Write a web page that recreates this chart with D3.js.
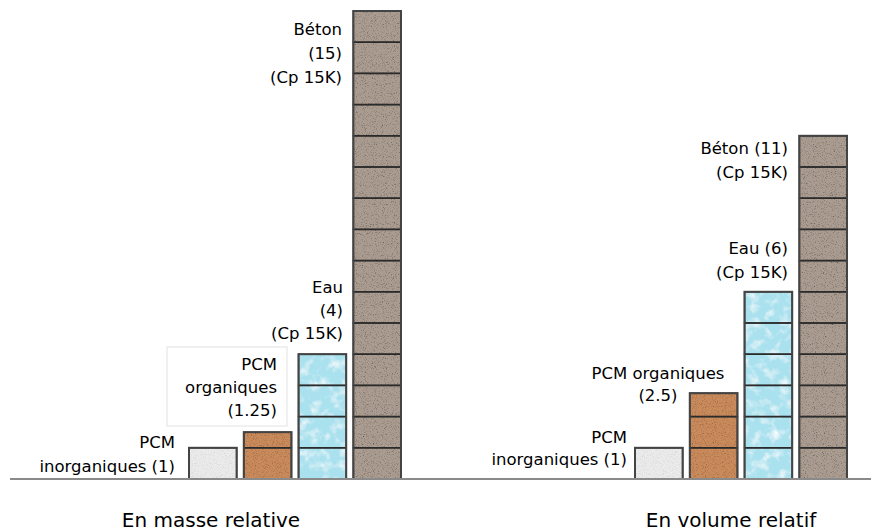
<!DOCTYPE html>
<html>
<head>
<meta charset="utf-8">
<script src="https://cdn.jsdelivr.net/npm/d3@7"></script>
<style>
  body { margin: 0; background: #fff; }
  svg { display: block; font-family: "DejaVu Sans", sans-serif; }
</style>
</head>
<body>
<div id="chart"></div>
<script>
// Data (heights in "blocks")
var groups = ["En masse relative", "En volume relatif"];
var materials = ["inorg", "org", "eau", "beton"];
var massHeights = [1, 1.5, 4, 15];
var volumeHeights = [1, 2.75, 6, 11];
var massLabels = [["PCM", "inorganiques (1)"], ["PCM", "organiques", "(1.25)"], ["Eau", "(4)", "(Cp 15K)"], ["Béton", "(15)", "(Cp 15K)"]];
var volumeLabels = [["PCM", "inorganiques (1)"], ["PCM organiques", "(2.5)"], ["Eau (6)", "(Cp 15K)"], ["Béton (11)", "(Cp 15K)"]];

var colors = { inorg: "#ececec", org: "#c98a5c", eau: "#a9e1ee", beton: "#aa9c90" };
var grain = { inorg: 0.5, org: 1.4, eau: 0.7, beton: 1.8 };

var W = 871, H = 532;
var svg = d3.select('#chart').append('svg')
    .attr('width', W)
    .attr('height', H);

// noise texture filters, one per material
var defs = svg.append('defs');
materials.forEach(function (m) {
    var f = defs.append('filter').attr('id', 'tex-' + m)
        .attr('x', 0).attr('y', 0).attr('width', '100%').attr('height', '100%');
    f.append('feTurbulence').attr('type', 'fractalNoise')
        .attr('baseFrequency', m == 'eau' ? 0.1 : 0.9)
        .attr('numOctaves', 3).attr('seed', 7).attr('result', 't');
    var k = grain[m];
    var a = m == 'eau' ? '0 0 0 0 1  0 0 0 0 1  0 0 0 0 1  1.8 0 0 0 -0.85'
                       : '0 0 0 0 0  0 0 0 0 0  0 0 0 0 0  ' + k + ' 0 0 0 ' + (-0.55 * k + 0.05);
    f.append('feColorMatrix').attr('in', 't').attr('type', 'matrix').attr('values', a).attr('result', 'g');
    f.append('feComposite').attr('in', 'g').attr('in2', 'SourceGraphic').attr('operator', 'in').attr('result', 'm');
    var mg = f.append('feMerge');
    mg.append('feMergeNode').attr('in', 'SourceGraphic');
    mg.append('feMergeNode').attr('in', 'm');
});

// scales
var x0 = d3.scaleBand().domain(groups).range([189, 1081]);
var x1 = d3.scaleBand().domain(materials).range([0, 212]).paddingInner(0.13);
var y = d3.scaleLinear().domain([0, 15]).range([479, 11]);

var data = [];
groups.forEach(function (g, gi) {
    var hs = gi == 0 ? massHeights : volumeHeights;
    materials.forEach(function (m, i) {
        data.push({ group: g, mat: m, h: hs[i] });
    });
});

// build block list
var blocks = [];
data.forEach(function (d) {
    for (var i = 0; i < Math.ceil(d.h); i++) {
        blocks.push({ group: d.group, mat: d.mat, lo: i, hi: Math.min(i + 1, d.h) });
    }
});

var bars = svg.append('g');
bars.selectAll('rect.fill')
    .data(data)
    .enter().append('rect')
    .attr('class', 'fill')
    .attr('x', function (d) { return x0(d.group) + x1(d.mat); })
    .attr('y', function (d) { return y(d.h); })
    .attr('width', x1.bandwidth())
    .attr('height', function (d) { return y(0) - y(d.h); })
    .attr('fill', function (d) { return colors[d.mat]; })
    .attr('filter', function (d) { return 'url(#tex-' + d.mat + ')'; });

bars.selectAll('rect.block')
    .data(blocks)
    .enter().append('rect')
    .attr('class', 'block')
    .attr('x', function (d) { return x0(d.group) + x1(d.mat); })
    .attr('y', function (d) { return y(d.hi); })
    .attr('width', x1.bandwidth())
    .attr('height', function (d) { return y(d.lo) - y(d.hi); })
    .attr('fill', 'none')
    .attr('stroke', '#2b2b2b')
    .attr('stroke-width', 1.5);

bars.selectAll('rect.outline')
    .data(data)
    .enter().append('rect')
    .attr('class', 'outline')
    .attr('x', function (d) { return x0(d.group) + x1(d.mat); })
    .attr('y', function (d) { return y(d.h); })
    .attr('width', x1.bandwidth())
    .attr('height', function (d) { return y(0) - y(d.h); })
    .attr('fill', 'none')
    .attr('stroke', '#444')
    .attr('stroke-width', 2);

// baseline
svg.append('line')
    .attr('x1', 10).attr('x2', W)
    .attr('y1', y(0)).attr('y2', y(0))
    .attr('stroke', '#8a8a8a')
    .attr('stroke-width', 2);

// box behind left "PCM organiques"
svg.append('rect')
    .attr('x', 167).attr('y', 347)
    .attr('width', 120).attr('height', 79)
    .attr('fill', '#fff')
    .attr('stroke', '#e2e2e2')
    .attr('stroke-width', 1);

// labels: [lines, anchor x, first line y, line gap, anchor]
var labelPos = [
    [massLabels[0], 175, 448, 24, 'end'],
    [massLabels[1], 277, 370, 23, 'end'],
    [massLabels[2], 343, 293, 23, 'end'],
    [massLabels[3], 342, 35, 24, 'end'],
    [volumeLabels[0], 627, 443, 22, 'end'],
    [volumeLabels[1], 658, 379, 22, 'middle'],
    [volumeLabels[2], 788, 254, 24, 'end'],
    [volumeLabels[3], 788, 154, 24, 'end']
];

labelPos.forEach(function (l) {
    var t = svg.append('text')
        .attr('x', l[1]).attr('y', l[2])
        .attr('text-anchor', l[4])
        .attr('font-size', 16.5)
        .attr('fill', '#000');
    l[0].forEach(function (s, i) {
        t.append('tspan').attr('x', l[1]).attr('dy', i == 0 ? 0 : l[3]).text(s);
    });
});

// group titles
svg.selectAll('text.group')
    .data(groups)
    .enter().append('text')
    .attr('class', 'group')
    .attr('x', function (d, i) { return i == 0 ? 211 : 731; })
    .attr('y', 527)
    .attr('text-anchor', 'middle')
    .attr('font-size', 20)
    .attr('fill', '#000')
    .text(function (d) { return d; });
</script>
</body>
</html>
